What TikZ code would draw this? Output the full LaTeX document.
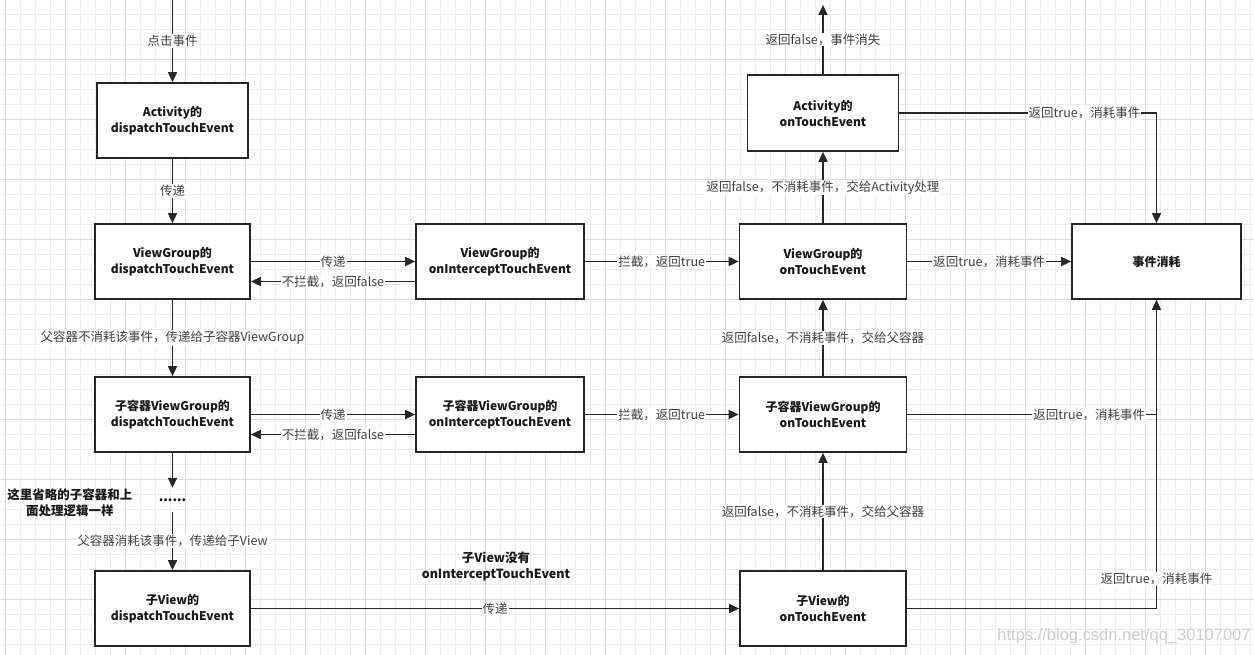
\documentclass[tikz,border=0pt]{standalone}
\usepackage{fontspec}
\setmainfont{Noto Sans CJK SC}
\newfontfamily\markfont{Liberation Sans}
\usetikzlibrary{arrows.meta}
\tikzset{
  minorline/.style={draw=black!7, line width=0.6pt},
  majorline/.style={draw=black!14, line width=0.7pt},
  box/.style={draw=black!85, line width=1.7pt, fill=white, inner sep=0pt,
    minimum height=75pt, align=center, text=black!90,
    font=\bfseries\fontsize{12}{16}\selectfont},
  lbl/.style={fill=white, inner sep=1pt, text=black!75,
    font=\fontsize{12.5}{15}\selectfont},
  note/.style={align=center, text=black!90, font=\bfseries\fontsize{12.5}{16}\selectfont},
  link/.style={draw=black!85, line width=1.7pt},
  flow/.style={link, -{Triangle[length=10pt,width=9pt]}}
}
\begin{document}
\begin{tikzpicture}[x=1pt,y=-1pt]
  \useasboundingbox (0,0) rectangle (1254,655);
  \fill[white] (0,0) rectangle (1254,655);
  \foreach \x in {5.7,20.7,...,1254} \draw[minorline] (\x,0) -- (\x,655);
  \foreach \y in {14.3,29.3,...,655} \draw[minorline] (0,\y) -- (1254,\y);
  \foreach \x in {5.7,65.7,...,1254} \draw[majorline] (\x,0) -- (\x,655);
  \foreach \y in {59.3,119.3,...,655} \draw[majorline] (0,\y) -- (1254,\y);

  \node[box, minimum width=151pt] (actd) at (172.5,120.5) {Activity的\\dispatchTouchEvent};
  \node[box, minimum width=155pt] (vgd) at (172.5,261.5) {ViewGroup的\\dispatchTouchEvent};
  \node[box, minimum width=168pt] (vgi) at (500,261.5) {ViewGroup的\\onInterceptTouchEvent};
  \node[box, minimum width=167pt] (vgt) at (823,261.5) {ViewGroup的\\onTouchEvent};
  \node[box, minimum width=169pt] (done) at (1156.5,261.5) {事件消耗};
  \node[box, minimum width=151pt, minimum height=76pt] (actt) at (823,113) {Activity的\\onTouchEvent};
  \node[box, minimum width=155pt] (subd) at (172.5,414.5) {子容器ViewGroup的\\dispatchTouchEvent};
  \node[box, minimum width=168pt] (subi) at (500,414.5) {子容器ViewGroup的\\onInterceptTouchEvent};
  \node[box, minimum width=167pt] (subt) at (823,414.5) {子容器ViewGroup的\\onTouchEvent};
  \node[box, minimum width=155pt] (viewd) at (172.5,608.5) {子View的\\dispatchTouchEvent};
  \node[box, minimum width=166pt] (viewt) at (823,608.5) {子View的\\onTouchEvent};

  \node[inner sep=0pt, minimum height=24pt, font=\bfseries\fontsize{13}{13}\selectfont] (dots) at (172.5,500) {......};
  \node[note] (skip) at (70,503) {这里省略的子容器和上\\面处理逻辑一样};
  \node[note] (nointc) at (496,566) {子View没有\\onInterceptTouchEvent};
  \node[text=black!20, font=\markfont\fontsize{16.5}{16}\selectfont] (mark) at (1124,636) {https://blog.csdn.net/qq\_30107007};

  \coordinate (start) at (172.5,0);
  \coordinate (lost) at (823,5);

  \draw[flow] (start) -- node[lbl]{点击事件} (actd);
  \draw[flow] (actd) -- node[lbl]{传递} (vgd);
  \draw[flow] (vgd) -- node[lbl]{传递} (vgi);
  \draw[flow] ([yshift=-20pt]vgi.west) -- node[lbl]{不拦截，返回false} ([yshift=-20pt]vgd.east);
  \draw[flow] (vgi) -- node[lbl]{拦截，返回true} (vgt);
  \draw[flow] (vgt) -- node[lbl]{返回true，消耗事件} (done);
  \draw[flow] (vgt) -- node[lbl]{返回false，不消耗事件，交给Activity处理} (actt);
  \draw[flow] (actt) -- node[lbl]{返回false，事件消失} (lost);
  \draw[flow] (actt.east) -| node[lbl, pos=0.36]{返回true，消耗事件} (done.north);
  \draw[flow] (vgd) -- node[lbl]{父容器不消耗该事件，传递给子容器ViewGroup} (subd);
  \draw[flow] (subd) -- node[lbl]{传递} (subi);
  \draw[flow] ([yshift=-20pt]subi.west) -- node[lbl]{不拦截，返回false} ([yshift=-20pt]subd.east);
  \draw[flow] (subi) -- node[lbl]{拦截，返回true} (subt);
  \draw[flow] (subt) -- node[lbl]{返回false，不消耗事件，交给父容器} (vgt);
  \draw[link] (subt.east) -- node[lbl, pos=0.73]{返回true，消耗事件} (subt.east -| done.south);
  \draw[flow] (subd) -- (dots);
  \draw[flow] (dots) -- node[lbl]{父容器消耗该事件，传递给子View} (viewd);
  \draw[flow] (viewd) -- node[lbl]{传递} (viewt);
  \draw[flow] (viewt) -- node[lbl]{返回false，不消耗事件，交给父容器} (subt);
  \draw[flow] (viewt.east) -| node[lbl, pos=0.548]{返回true，消耗事件} (done.south);
\end{tikzpicture}
\end{document}
